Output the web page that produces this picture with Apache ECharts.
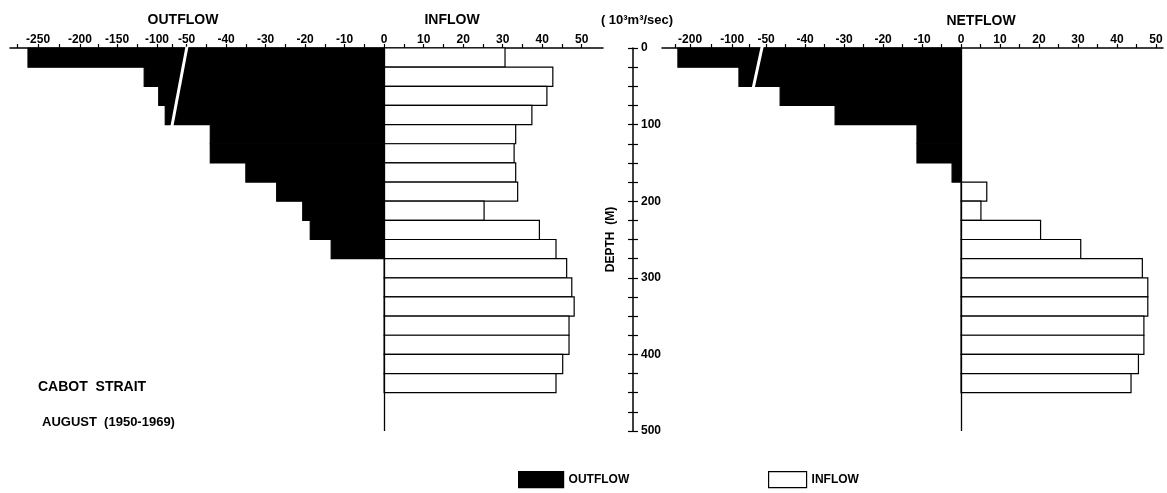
<!DOCTYPE html>
<html>
<head>
<meta charset="utf-8">
<title>Cabot Strait - August (1950-1969)</title>
<script src="https://cdn.jsdelivr.net/npm/echarts@6/dist/echarts.min.js"></script>
<style>
  html, body { margin: 0; padding: 0; background: #fff; }
  #chart { width: 1167px; height: 493px; }
</style>
</head>
<body>
<div id="chart"></div>
<script>
// top of each 25 m layer (m)
const layerTops = [0, 25, 50, 75, 100, 125, 150, 175, 200, 225, 250, 275, 300, 325, 350, 375, 400, 425];
const layerSize = 25;

// transport, 10^3 m^3/sec
const outflow = [-262, -116, -97, -86, -44, -44, -35, -27.2, -20.6, -18.7, -13.4];
const inflow = [30.6, 42.7, 41.2, 37.4, 33.3, 32.9, 33.3, 33.8, 25.3, 39.3, 43.5, 46.2, 47.5, 48.1, 46.8, 46.8, 45.2, 43.5];
const netflow = [-241, -90, -46.4, -32.3, -11.3, -11.3, -2.3, 6.6, 5.1, 20.4, 30.7, 46.5, 47.9, 47.9, 46.9, 46.9, 45.5, 43.6];

const leftTickLabels = [-250, -200, -150, -100, -50, -40, -30, -20, -10, 0, 10, 20, 30, 40, 50];
const rightTickLabels = [-200, -100, -50, -40, -30, -20, -10, 0, 10, 20, 30, 40, 50];
const depthLabels = [0, 100, 200, 300, 400, 500];

// the flow axis is broken at -50: linear above, squeezed below
const leftBreak = { vals: [-50, -100, -150, -200, -250], pos: [-50, -57.5, -67.6, -77.0, -87.6] };
const rightBreak = { vals: [-50, -100, -150, -200, -250], pos: [-50, -58.7, -64.1, -69.5, -73.3] };

function squeeze(brk, v) {
  if (v >= -50) return v;
  const { vals, pos } = brk;
  for (let i = 1; i < vals.length; i++) {
    if (v >= vals[i]) {
      const t = (v - vals[i - 1]) / (vals[i] - vals[i - 1]);
      return pos[i - 1] + t * (pos[i] - pos[i - 1]);
    }
  }
  const n = vals.length - 1;
  const slope = (pos[n] - pos[n - 1]) / (vals[n] - vals[n - 1]);
  return pos[n] + (v - vals[n]) * slope;
}

function fineTicks(lo, hi) {
  const out = [];
  for (let v = lo; v <= hi; v += 5) out.push(v);
  return out;
}
const leftTicks = [-275, -250, -225, -200, -175, -150, -125, -100, -75].concat(fineTicks(-50, 50));
const rightTicks = [-250, -200, -150, -100, -75].concat(fineTicks(-50, 50));

const FONT = '"Liberation Sans", Arial, sans-serif';

function flowAxis(grid, brk, ticks, labels, min, max) {
  const labelPos = labels.map((v) => squeeze(brk, v));
  const names = {};
  labelPos.forEach((p, i) => { names[p.toFixed(3)] = String(labels[i]); });
  return {
    gridIndex: grid,
    type: 'value',
    position: 'top',
    min: min,
    max: max,
    axisLine: { onZero: false, lineStyle: { color: '#000', width: 1.5 } },
    axisTick: {
      customValues: ticks.map((v) => squeeze(brk, v)),
      length: 4,
      lineStyle: { color: '#000', width: 1.2 }
    },
    axisLabel: {
      customValues: labelPos,
      formatter: (p) => names[p.toFixed(3)] || '',
      margin: 2,
      color: '#000',
      fontWeight: 'bold',
      fontSize: 12,
      fontFamily: FONT
    },
    splitLine: { show: false }
  };
}

function layerBar(fill) {
  return function (params, api) {
    const a = api.coord([0, api.value(1)]);
    const b = api.coord([api.value(0), api.value(2)]);
    return {
      type: 'rect',
      shape: { x: Math.min(a[0], b[0]), y: a[1], width: Math.abs(b[0] - a[0]), height: b[1] - a[1] },
      style: { fill: fill, stroke: '#000', lineWidth: 1.2 }
    };
  };
}

function rows(values, brk) {
  return values.map((v, i) => [squeeze(brk, v), layerTops[i], layerTops[i] + layerSize]);
}

const netRows = rows(netflow, rightBreak);

const blackStyle = { color: '#000', borderColor: '#000', borderWidth: 1.2 };
const whiteStyle = { color: '#fff', borderColor: '#000', borderWidth: 1.2 };

const zeroLine = {
  symbol: 'none',
  silent: true,
  label: { show: false },
  lineStyle: { color: '#000', width: 1.3, type: 'solid' },
  data: [{ xAxis: 0 }]
};

// white slash marking the break of the flow axis
function breakSlash(grid, top, bottom) {
  return {
    type: 'lines',
    coordinateSystem: 'cartesian2d',
    xAxisIndex: grid,
    yAxisIndex: grid,
    z: 6,
    silent: true,
    lineStyle: { color: '#fff', width: 3, opacity: 1, curveness: 0 },
    data: [{ coords: [top, bottom] }]
  };
}

function depthAxis(inside, withLabels) {
  return {
    gridIndex: 1,
    type: 'value',
    inverse: true,
    min: 0,
    max: 500,
    interval: 25,
    position: 'left',
    offset: 29,
    name: withLabels ? 'DEPTH  (M)' : '',
    nameLocation: 'middle',
    nameGap: 16,
    nameRotate: 90,
    nameTextStyle: { color: '#000', fontWeight: 'bold', fontSize: 12, fontFamily: FONT },
    axisLine: { show: withLabels, onZero: false, lineStyle: { color: '#000', width: 1.5 } },
    axisTick: { show: true, inside: inside, length: 5, lineStyle: { color: '#000', width: 1.2 } },
    axisLabel: {
      show: withLabels,
      inside: true,
      margin: 8,
      color: '#000',
      fontWeight: 'bold',
      fontSize: 12,
      fontFamily: FONT,
      formatter: (v) => (depthLabels.indexOf(v) >= 0 ? String(v) : '')
    },
    splitLine: { show: false }
  };
}

function heading(text, x, y, size) {
  return {
    type: 'text',
    x: x,
    y: y,
    silent: true,
    style: {
      text: text,
      fill: '#000',
      font: 'bold ' + size + 'px ' + FONT,
      align: 'center',
      verticalAlign: 'middle'
    }
  };
}

const chart = echarts.init(document.getElementById('chart'));
chart.setOption({
  animation: false,
  backgroundColor: '#fff',
  grid: [
    { left: 10, top: 48, width: 593, height: 383 },
    { left: 662, top: 48, width: 501, height: 383 }
  ],
  xAxis: [
    flowAxis(0, leftBreak, leftTicks, leftTickLabels, -94.7, 55.4),
    flowAxis(1, rightBreak, rightTicks, rightTickLabels, -76.7, 51.8)
  ],
  yAxis: [
    { gridIndex: 0, type: 'value', inverse: true, min: 0, max: 500, show: false },
    depthAxis(true, true),
    depthAxis(false, false)
  ],
  legend: [
    {
      data: [{ name: 'OUTFLOW', itemStyle: blackStyle }],
      left: 513, top: 466, itemWidth: 45, itemHeight: 16, icon: 'rect',
      textStyle: { color: '#000', fontWeight: 'bold', fontSize: 12, fontFamily: FONT }
    },
    {
      data: [{ name: 'INFLOW', itemStyle: whiteStyle }],
      left: 763, top: 466, itemWidth: 38, itemHeight: 16, icon: 'rect',
      textStyle: { color: '#000', fontWeight: 'bold', fontSize: 12, fontFamily: FONT }
    }
  ],
  graphic: [
    heading('OUTFLOW', 183, 20, 14),
    heading('INFLOW', 452, 20, 14),
    heading('( 10³m³/sec)', 637, 20, 13),
    heading('NETFLOW', 981, 21, 14),
    { type: 'text', x: 38, y: 387, silent: true,
      style: { text: 'CABOT  STRAIT', fill: '#000', font: 'bold 14px ' + FONT, verticalAlign: 'middle' } },
    { type: 'text', x: 42, y: 422, silent: true,
      style: { text: 'AUGUST  (1950-1969)', fill: '#000', font: 'bold 13px ' + FONT, verticalAlign: 'middle' } }
  ],
  series: [
    {
      name: 'OUTFLOW', type: 'custom', xAxisIndex: 0, yAxisIndex: 0, z: 3,
      renderItem: layerBar('#000'), itemStyle: blackStyle,
      encode: { x: 0, y: [1, 2] },
      data: rows(outflow, leftBreak)
    },
    {
      name: 'INFLOW', type: 'custom', xAxisIndex: 0, yAxisIndex: 0, z: 2,
      renderItem: layerBar('#fff'), itemStyle: whiteStyle,
      encode: { x: 0, y: [1, 2] },
      data: rows(inflow, leftBreak),
      markLine: zeroLine
    },
    {
      name: 'OUTFLOW', type: 'custom', xAxisIndex: 1, yAxisIndex: 1, z: 3,
      renderItem: layerBar('#000'), itemStyle: blackStyle,
      encode: { x: 0, y: [1, 2] },
      data: netRows.filter((r) => r[0] < 0)
    },
    {
      name: 'INFLOW', type: 'custom', xAxisIndex: 1, yAxisIndex: 1, z: 2,
      renderItem: layerBar('#fff'), itemStyle: whiteStyle,
      encode: { x: 0, y: [1, 2] },
      data: netRows.filter((r) => r[0] > 0),
      markLine: zeroLine
    },
    breakSlash(0, [-49.9, -2], [-53.9, 107]),
    breakSlash(1, [-51, -2], [-53.6, 59])
  ]
});
</script>
</body>
</html>
